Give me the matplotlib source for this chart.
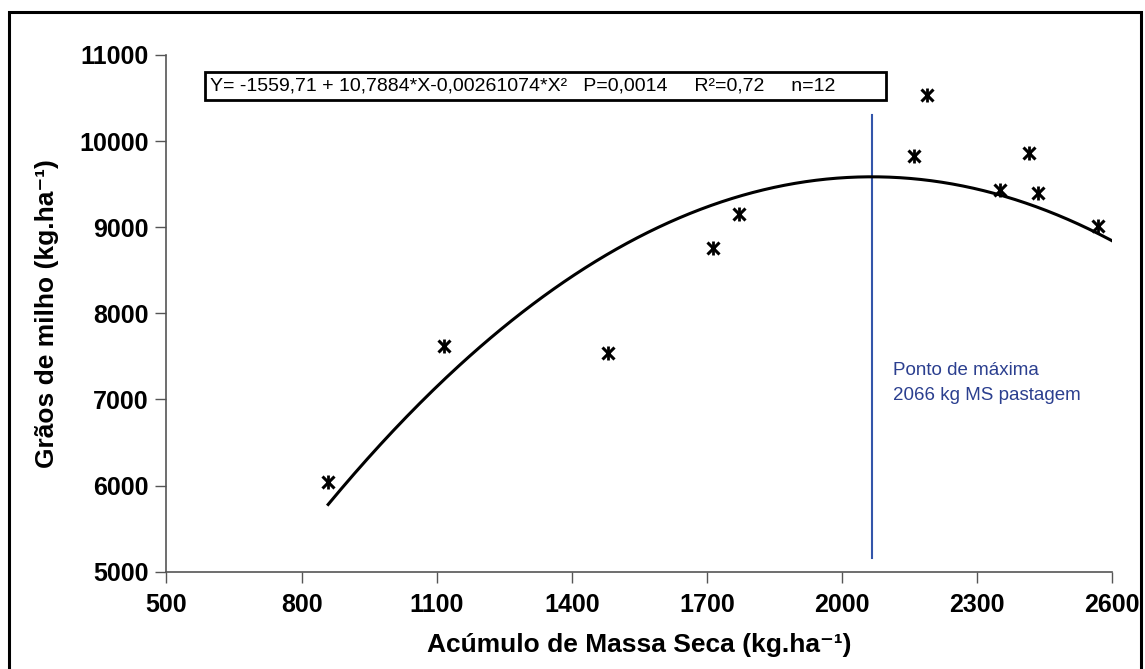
import numpy as np
import matplotlib.pyplot as plt
from matplotlib.patches import Rectangle

plt.rcParams['font.family'] = ['Liberation Sans', 'DejaVu Sans']

# Observed data
massa_seca = [859, 1116, 1481, 1714, 1771, 2160, 2188, 2351, 2415, 2436, 2569]
graos_milho = [6045, 7624, 7543, 8759, 9153, 9827, 10535, 9432, 9858, 9394, 9018]

# Regression coefficients (from equation on chart)
b0 = -1559.71
b1 = 10.7884
b2 = -0.00261074
x_max_point = 2066
curve_range = [859, 2600]

x_ticks = [500, 800, 1100, 1400, 1700, 2000, 2300, 2600]
y_ticks = [5000, 6000, 7000, 8000, 9000, 10000, 11000]

fig = plt.figure(figsize=(11.45, 6.69), dpi=100)
ax = fig.add_axes([0.1454, 0.1454, 0.9714 - 0.1454, 0.9178 - 0.1454])

xc = np.linspace(curve_range[0], curve_range[1], 300)
yc = b0 + b1 * xc + b2 * xc ** 2
ax.plot(xc, yc, color='black', lw=2.2, zorder=3)

ax.plot(massa_seca, graos_milho, linestyle='none', marker='x', ms=8, mew=2.2, color='black', zorder=4)
ax.plot(massa_seca, graos_milho, linestyle='none', marker='|', ms=10, mew=2.0, color='black', zorder=4)

ax.plot([x_max_point, x_max_point], [5160, 10300], color='#3355aa', lw=1.5, zorder=2)

ax.text(2113, 7191, 'Ponto de máxima\n2066 kg MS pastagem', color='#2b3f8f',
        fontsize=13.5, ha='left', va='center', linespacing=1.55)

# equation box
ax.add_patch(Rectangle((585, 10477), 2097 - 585, 10802 - 10477, fill=False,
                       ec='black', lw=2.0, zorder=5, clip_on=False))
ax.text(597, 10640,
        'Y= -1559,71 + 10,7884*X-0,00261074*X²   P=0,0014     R²=0,72     n=12',
        fontsize=14, ha='left', va='center', color='black')

ax.set_xlim(500, 2600)
ax.set_ylim(5000, 11000)
ax.set_xticks(x_ticks)
ax.set_yticks(y_ticks)
ax.tick_params(axis='both', direction='out', length=8, width=1, color='#555555',
               labelsize=18, pad=5)
ax.tick_params(axis='x', pad=7)
for lab in ax.get_xticklabels() + ax.get_yticklabels():
    lab.set_fontweight('bold')
for s in ['top', 'right']:
    ax.spines[s].set_visible(False)
for s in ['left', 'bottom']:
    ax.spines[s].set_color('#555555')
    ax.spines[s].set_linewidth(1.2)

ax.set_xlabel('Acúmulo de Massa Seca (kg.ha⁻¹)', fontsize=19, fontweight='bold', labelpad=12)
ax.set_ylabel('Grãos de milho (kg.ha⁻¹)', fontsize=19, fontweight='bold', labelpad=14)

fig.patches.append(Rectangle((9 / 1145, -0.01), (1141 - 9) / 1145, 1 - 12 / 669 + 0.01,
                             transform=fig.transFigure, fill=False, ec='black', lw=2.2))

fig.savefig('out.png', dpi=100)
